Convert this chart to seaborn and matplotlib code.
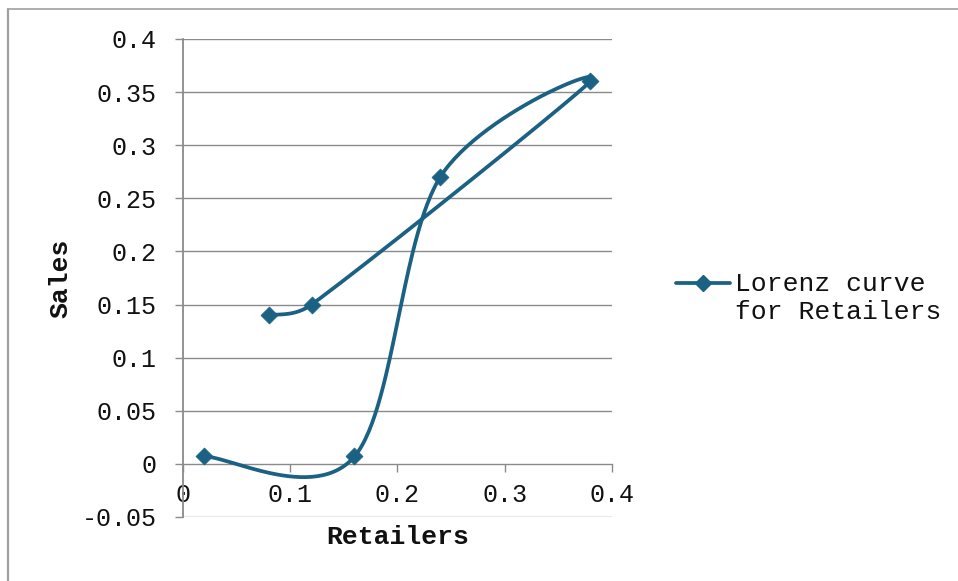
import numpy as np
import pandas as pd
import matplotlib
matplotlib.use("Agg")
import matplotlib.pyplot as plt
from matplotlib.lines import Line2D
import seaborn as sns

# ---- data ----
retailers = [0.02, 0.16, 0.24, 0.38, 0.12, 0.08]
sales = [0.007, 0.007, 0.27, 0.36, 0.15, 0.14]
series_name = "Lorenz curve\nfor Retailers"
x_ticks = [0, 0.1, 0.2, 0.3, 0.4]
x_tick_labels = ["0", "0.1", "0.2", "0.3", "0.4"]
y_ticks = [-0.05, 0, 0.05, 0.1, 0.15, 0.2, 0.25, 0.3, 0.35, 0.4]
y_tick_labels = ["-0.05", "0", "0.05", "0.1", "0.15", "0.2", "0.25", "0.3", "0.35", "0.4"]
x_title = "Retailers"
y_title = "Sales"

LINE_COLOR = "#1A6183"
GRID_COLOR = "#8A8A8A"
TEXT_COLOR = "#111111"
FONT = ["Liberation Mono", "DejaVu Sans Mono"]
TICK_FS = 18
TITLE_FS = 19
LEGEND_FS = 19


def smooth_path(xs, ys, steps=60):
    """Excel-like smoothed line: Catmull-Rom Bezier, control arms capped at half segment."""
    P = np.column_stack([xs, ys]).astype(float)
    n = len(P)
    out = []
    for i in range(n - 1):
        p0 = P[i - 1] if i > 0 else P[i]
        p1, p2 = P[i], P[i + 1]
        p3 = P[i + 2] if i + 2 < n else P[i + 1]
        seg = np.linalg.norm(p2 - p1)
        t1 = (p2 - p0) / 6.0
        t2 = (p3 - p1) / 6.0
        for t in (t1, t2):
            L = np.linalg.norm(t)
            if L > seg / 2 and L > 0:
                t *= (seg / 2) / L
        c1 = p1 + t1
        c2 = p2 - t2
        tt = np.linspace(0, 1, steps)[:, None]
        pts = ((1 - tt) ** 3) * p1 + 3 * ((1 - tt) ** 2) * tt * c1 + 3 * (1 - tt) * tt ** 2 * c2 + tt ** 3 * p2
        out.append(pts if i == 0 else pts[1:])
    return np.vstack(out)


sns.set_theme(style="white")
plt.rcParams["font.family"] = FONT

fig = plt.figure(figsize=(9.58, 5.81), dpi=100)
ax = fig.add_axes([183 / 958, 1 - 517 / 581, (611.7 - 183) / 958, (517 - 39) / 581])

curve = smooth_path(retailers, sales)
curve_df = pd.DataFrame({"x": curve[:, 0], "y": curve[:, 1]})
pts_df = pd.DataFrame({"x": retailers, "y": sales})

sns.lineplot(data=curve_df, x="x", y="y", sort=False, estimator=None, ax=ax,
             color=LINE_COLOR, linewidth=2.7, zorder=3)
sns.scatterplot(data=pts_df, x="x", y="y", ax=ax, marker="D", s=75,
                color=LINE_COLOR, edgecolor=LINE_COLOR, linewidth=0.5, zorder=4)

ax.set_xlim(0, 0.4)
ax.set_ylim(-0.05, 0.4)
ax.set_xticks(x_ticks)
ax.set_xticklabels(x_tick_labels)
ax.set_yticks(y_ticks)
ax.set_yticklabels(y_tick_labels)

ax.grid(False)
for yv in y_ticks:
    if yv != 0:
        ax.axhline(yv, color=GRID_COLOR, lw=1.0, zorder=1)

for s in ["top", "right"]:
    ax.spines[s].set_visible(False)
ax.spines["bottom"].set_position(("data", 0))
ax.spines["bottom"].set_color(GRID_COLOR)
ax.spines["bottom"].set_linewidth(1.0)
ax.spines["left"].set_color(GRID_COLOR)
ax.spines["left"].set_linewidth(1.3)
ax.spines["left"].set_zorder(2)

ax.tick_params(axis="x", direction="out", length=6, width=1.0, color=GRID_COLOR,
               labelsize=TICK_FS, labelcolor=TEXT_COLOR, pad=8, bottom=True)
ax.tick_params(axis="y", direction="out", length=6, width=1.0, color=GRID_COLOR,
               labelsize=TICK_FS, labelcolor=TEXT_COLOR, pad=13, left=True)

ax.set_xlabel(x_title, fontsize=TITLE_FS, fontweight="bold", color=TEXT_COLOR)
ax.set_ylabel(y_title, fontsize=TITLE_FS, fontweight="bold", color=TEXT_COLOR)
ax.xaxis.set_label_coords(0.5, -(537 - 517) / 478)
ax.xaxis.label.set_va("center")
ax.yaxis.set_label_coords(-(183 - 60) / 428.7, 0.5)
ax.yaxis.label.set_va("center")

# legend (drawn in figure coordinates)
fig.add_artist(Line2D([676 / 958, 730 / 958], [1 - 283 / 581, 1 - 283 / 581],
                      transform=fig.transFigure, color=LINE_COLOR, lw=2.7))
fig.add_artist(Line2D([703 / 958], [1 - 283 / 581], transform=fig.transFigure,
                      marker="D", markersize=8.5, color=LINE_COLOR, lw=0))
fig.text(735 / 958, 1 - 298 / 581, series_name, fontsize=LEGEND_FS, color=TEXT_COLOR,
         ha="left", va="center", linespacing=1.22)

# outer chart frame (top & left)
fig.add_artist(Line2D([8 / 958, 1.0], [1 - 9 / 581, 1 - 9 / 581], transform=fig.transFigure,
                      color="#A0A0A0", lw=1.2))
fig.add_artist(Line2D([8 / 958, 8 / 958], [0, 1 - 9 / 581], transform=fig.transFigure,
                      color="#A0A0A0", lw=1.6))

fig.savefig("out.png", dpi=100)
